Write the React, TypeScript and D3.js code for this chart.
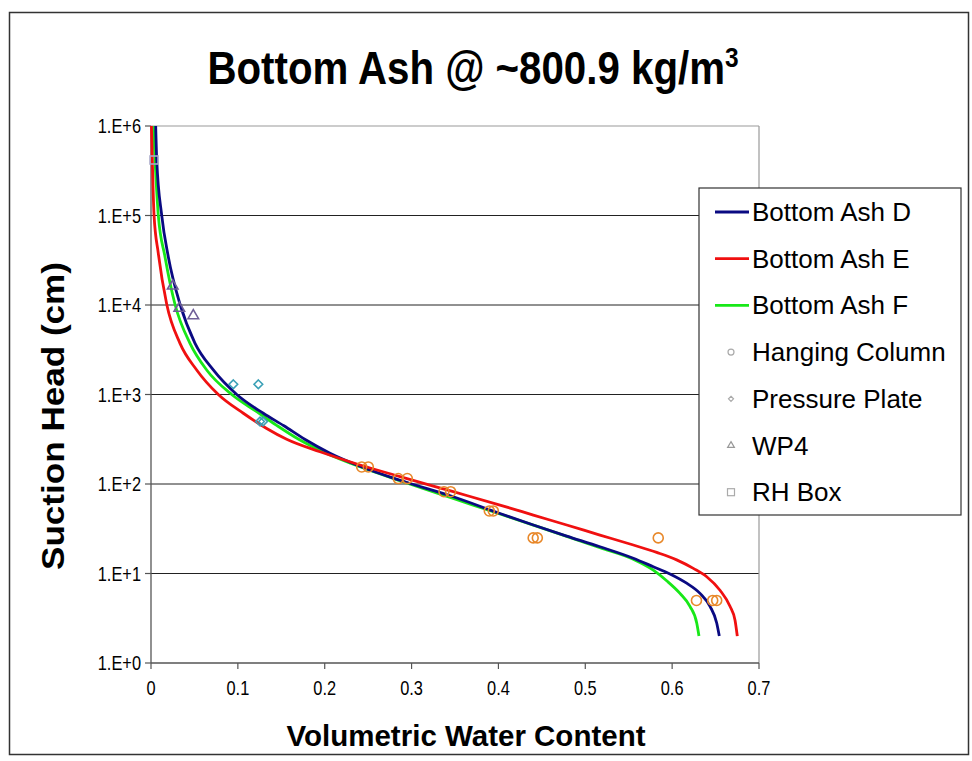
import { line, curveMonotoneX, scaleLinear, scaleLog, symbol, symbolDiamond2, symbolTriangle } from 'd3'

// Soil-water characteristic curves (bottom ash), suction head on a log axis.
// Points: [volumetric water content, suction head (cm)].

const FITTED_D: [number, number][] = [
  [0.0054, 1e6], [0.0066, 4.17e5], [0.0123, 1.01e5], [0.0199, 3.47e4], [0.0334, 1.02e4],
  [0.0507, 3730], [0.0717, 1880], [0.0987, 1000], [0.1293, 617], [0.153, 447],
  [0.177, 316], [0.2061, 221], [0.2406, 158], [0.2867, 110], [0.348, 72],
  [0.4018, 46.8], [0.4402, 34.8], [0.4786, 26.2], [0.5169, 19.9], [0.5553, 14.8],
  [0.5783, 11.9], [0.5975, 9.9], [0.6167, 7.8], [0.6321, 6.0], [0.6436, 4.3],
  [0.6513, 2.8], [0.6543, 2.0],
]

const FITTED_E: [number, number][] = [
  [0.0005, 1e6], [0.0015, 4.17e5], [0.0035, 1.01e5], [0.0084, 3.78e4], [0.0181, 1.02e4],
  [0.0334, 3730], [0.0526, 1880], [0.0775, 1000], [0.1063, 617], [0.1332, 417],
  [0.1562, 316], [0.1946, 229], [0.2406, 163], [0.2867, 121], [0.348, 82],
  [0.4018, 58.2], [0.4402, 45.0], [0.4786, 34.8], [0.5169, 26.9], [0.5553, 20.8],
  [0.5822, 17.2], [0.6052, 14.2], [0.6244, 11.4], [0.6398, 9.2], [0.6551, 6.5],
  [0.6666, 4.3], [0.6724, 3.0], [0.675, 2.0],
]

const FITTED_F: [number, number][] = [
  [0.0027, 1e6], [0.0046, 4.17e5], [0.0084, 1.01e5], [0.0161, 3.47e4], [0.0276, 1.02e4],
  [0.0449, 3730], [0.0641, 1880], [0.0929, 1000], [0.1217, 643], [0.1447, 452],
  [0.17, 316], [0.2023, 220], [0.2406, 156], [0.2867, 109], [0.348, 69],
  [0.4018, 46.2], [0.4402, 34.7], [0.4786, 26.0], [0.5169, 19.4], [0.5553, 14.4],
  [0.5783, 10.9], [0.5937, 8.3], [0.609, 6.0], [0.6205, 4.3], [0.6283, 2.8],
  [0.6309, 2.0],
]

const HANGING_COLUMN: [number, number][] = [
  [0.2426, 155], [0.2502, 155], [0.2847, 115], [0.2951, 115], [0.3373, 82], [0.345, 82],
  [0.3895, 50], [0.3941, 50], [0.44, 25], [0.4448, 25], [0.584, 25],
  [0.628, 5], [0.6467, 5], [0.6513, 5],
]
const PRESSURE_PLATE: [number, number][] = [[0.0948, 1300], [0.1236, 1300], [0.1255, 500], [0.129, 500]]
const WP4: [number, number][] = [[0.025, 16300], [0.0326, 9200], [0.0487, 7600]]
const RH_BOX: [number, number][] = [[0.0035, 417000]]

const X_TICKS = [0, 0.1, 0.2, 0.3, 0.4, 0.5, 0.6, 0.7]
const Y_TICKS = [1, 10, 100, 1000, 10000, 100000, 1000000]
const Y_TICK_LABELS = ['1.E+0', '1.E+1', '1.E+2', '1.E+3', '1.E+4', '1.E+5', '1.E+6']

const LEGEND_NAMES = ['Bottom Ash D', 'Bottom Ash E', 'Bottom Ash F', 'Hanging Column', 'Pressure Plate', 'WP4', 'RH Box']

const W = 972
const H = 761
const PLOT = { left: 151, right: 759, top: 126, bottom: 663 }
const FONT = '"Liberation Sans", Arial, sans-serif'

const C_D = '#0a0a82'
const C_E = '#f01010'
const C_F = '#18e818'
const C_HC = '#e8882a'
const C_PP = '#3aa0b6'
const C_WP = '#6f5f98'
const C_RH = '#a8a8c8'

export default function App() {
  const x = scaleLinear().domain([0, 0.7]).range([PLOT.left, PLOT.right])
  const y = scaleLog().domain([1, 1e6]).range([PLOT.bottom, PLOT.top])

  const path = line<[number, number]>()
    .x((d) => x(d[0]))
    .y((d) => y(d[1]))
    .curve(curveMonotoneX)

  const diamond = symbol().type(symbolDiamond2).size(48)()
  const triangle = symbol().type(symbolTriangle).size(48)()
  const smallDiamond = symbol().type(symbolDiamond2).size(16)()
  const smallTriangle = symbol().type(symbolTriangle).size(20)()

  const legendY = (i: number) => 212 + i * 46.7

  return (
    <svg width={W} height={H} viewBox={`0 0 ${W} ${H}`} style={{ position: 'absolute', left: 0, top: 0, fontFamily: FONT }}>
      <rect x={0} y={0} width={W} height={H} fill="#fff" />
      <rect x={9.5} y={12.5} width={959} height={742} fill="#fff" stroke="#333" strokeWidth={1.5} />

      {/* title, narrowed a little like the original */}
      <text transform="translate(473, 84) scale(0.875, 1)" textAnchor="middle" fontSize={46} fontWeight="bold" fill="#000">
        Bottom Ash @ ~800.9 kg/m<tspan fontSize={28} dy={-17}>3</tspan>
      </text>

      {/* grid and frame */}
      {Y_TICKS.slice(1, -1).map((t) => (
        <line key={t} x1={PLOT.left} x2={PLOT.right} y1={y(t)} y2={y(t)} stroke="#222" strokeWidth={1} />
      ))}
      <line x1={PLOT.left} x2={PLOT.right} y1={PLOT.top} y2={PLOT.top} stroke="#999" strokeWidth={1.2} />
      <line x1={PLOT.right} x2={PLOT.right} y1={PLOT.top} y2={PLOT.bottom} stroke="#999" strokeWidth={1.2} />
      <line x1={PLOT.left} x2={PLOT.left} y1={PLOT.top} y2={PLOT.bottom} stroke="#555" strokeWidth={1.3} />
      <line x1={PLOT.left} x2={PLOT.right} y1={PLOT.bottom} y2={PLOT.bottom} stroke="#555" strokeWidth={1.3} />

      {Y_TICKS.map((t, i) => (
        <g key={t}>
          <line x1={PLOT.left - 6} x2={PLOT.left} y1={y(t)} y2={y(t)} stroke="#555" strokeWidth={1.2} />
          <text transform={`translate(141, ${y(t) + 7}) scale(0.82, 1)`} textAnchor="end" fontSize={20} fill="#000">
            {Y_TICK_LABELS[i]}
          </text>
        </g>
      ))}
      {X_TICKS.map((t) => (
        <g key={t}>
          <line x1={x(t)} x2={x(t)} y1={PLOT.bottom} y2={PLOT.bottom + 6} stroke="#555" strokeWidth={1.2} />
          <text transform={`translate(${x(t)}, 695) scale(0.82, 1)`} textAnchor="middle" fontSize={20} fill="#000">
            {t}
          </text>
        </g>
      ))}

      <text x={466} y={746} textAnchor="middle" fontSize={30} fontWeight="bold" textLength={359} lengthAdjust="spacingAndGlyphs">
        Volumetric Water Content
      </text>
      <text
        transform={`translate(64, 416) rotate(-90)`}
        textAnchor="middle"
        fontSize={31}
        fontWeight="bold"
        textLength={308}
        lengthAdjust="spacingAndGlyphs"
      >
        Suction Head (cm)
      </text>

      {/* fitted curves */}
      <path d={path(FITTED_F) ?? ''} fill="none" stroke={C_F} strokeWidth={2.8} />
      <path d={path(FITTED_D) ?? ''} fill="none" stroke={C_D} strokeWidth={2.8} />
      <path d={path(FITTED_E) ?? ''} fill="none" stroke={C_E} strokeWidth={2.8} />

      {/* measured points */}
      {HANGING_COLUMN.map((d, i) => (
        <circle key={`hc${i}`} cx={x(d[0])} cy={y(d[1])} r={5} fill="none" stroke={C_HC} strokeWidth={1.6} />
      ))}
      {PRESSURE_PLATE.map((d, i) => (
        <path key={`pp${i}`} d={diamond ?? ''} transform={`translate(${x(d[0])},${y(d[1])})`} fill="none" stroke={C_PP} strokeWidth={1.6} />
      ))}
      {WP4.map((d, i) => (
        <path key={`wp${i}`} d={triangle ?? ''} transform={`translate(${x(d[0])},${y(d[1])})`} fill="none" stroke={C_WP} strokeWidth={1.6} />
      ))}
      {RH_BOX.map((d, i) => (
        <rect key={`rh${i}`} x={x(d[0]) - 4} y={y(d[1]) - 4} width={8} height={8} fill="none" stroke={C_RH} strokeWidth={1.6} />
      ))}

      {/* legend */}
      <rect x={699} y={188} width={262} height={327} fill="#fff" stroke="#333" strokeWidth={1.2} />
      {LEGEND_NAMES.map((name, i) => {
        const ly = legendY(i)
        const lineColor = [C_D, C_E, C_F][i]
        return (
          <g key={name}>
            {lineColor && <line x1={715} x2={749} y1={ly} y2={ly} stroke={lineColor} strokeWidth={2.8} />}
            {i === 3 && <circle cx={731} cy={ly} r={3} fill="none" stroke="#aaa" strokeWidth={1.2} />}
            {i === 4 && <path d={smallDiamond ?? ''} transform={`translate(731,${ly})`} fill="none" stroke="#aaa" strokeWidth={1.2} />}
            {i === 5 && <path d={smallTriangle ?? ''} transform={`translate(731,${ly})`} fill="none" stroke="#999" strokeWidth={1.2} />}
            {i === 6 && <rect x={727.5} y={ly - 3.5} width={7} height={7} fill="none" stroke="#aaa" strokeWidth={1.2} />}
            <text x={752} y={ly + 9} fontSize={26} fill="#000">
              {name}
            </text>
          </g>
        )
      })}
    </svg>
  )
}
